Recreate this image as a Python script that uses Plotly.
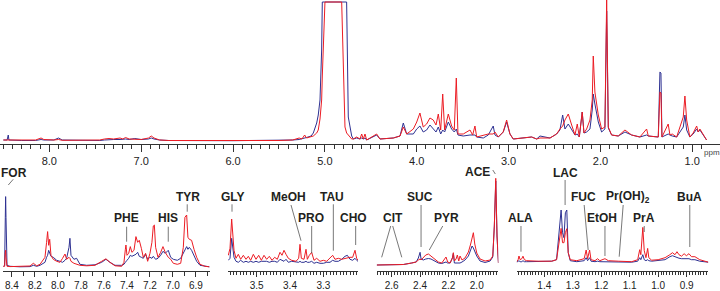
import plotly.graph_objects as go
import numpy as np

RED = "#EC1C24"
BLUE = "#2E3192"
FONT = "Liberation Sans, Arial, sans-serif"

# ---------------- main spectrum (ppm, red, blue) ----------------
main_ppm = [8.50, 8.46, 8.447, 8.44, 8.30, 8.15, 8.09, 8.06, 7.95, 7.90, 7.86, 7.60, 7.58, 7.45,
            7.40, 7.35, 7.30, 7.23, 7.20, 7.17, 7.13, 7.07, 7.00, 6.92, 6.89, 6.86, 6.80, 6.70,
            6.00, 5.50, 5.35, 5.28, 5.25, 5.22, 5.20, 5.15, 5.126, 5.089, 5.072, 5.053, 5.035,
            5.028, 5.010, 4.999, 4.817, 4.799, 4.781, 4.763, 4.745, 4.719, 4.708, 4.69, 4.654,
            4.618, 4.599, 4.582, 4.563, 4.545, 4.436, 4.400, 4.255, 4.182, 4.146, 4.109, 4.037,
            4.000, 3.965, 3.929, 3.892, 3.856, 3.820, 3.790, 3.765, 3.739, 3.717, 3.696, 3.656,
            3.620, 3.591, 3.569, 3.551, 3.493, 3.420, 3.391, 3.366, 3.347, 3.275, 3.221, 3.167,
            3.148, 3.112, 3.058, 3.021, 2.985, 2.949, 2.749, 2.694, 2.658, 2.549, 2.477, 2.441,
            2.411, 2.386, 2.350, 2.313, 2.277, 2.252, 2.230, 2.198, 2.179, 2.150, 2.114, 2.089,
            2.078, 2.060, 2.023, 1.987, 1.951, 1.932, 1.914, 1.878, 1.806, 1.733, 1.660, 1.570,
            1.497, 1.479, 1.370, 1.352, 1.341, 1.330, 1.262, 1.243, 1.218, 1.170, 1.098, 1.080,
            1.061, 1.026, 0.990, 0.952, 0.935, 0.917, 0.881, 0.844]
main_red = [1, 1, 1.5, 1, 1, 1, 3, 1.5, 1, 1.5, 0.7, 1, 1.5, 1,
            2, 2.5, 2, 3, 2, 3.5, 2, 2, 1.5, 3, 5, 3, 1, 0.5,
            0.3, 0.5, 1, 3, 2, 6, 3, 4, 5, 8, 11, 22, 41,
            65, 108, 139, 139, 74, 14, 8, 6, 3, 2, 2, 4,
            2, 7, 2, 7, 1, 7, 2, 3, 5, 14, 7, 12,
            19, 28, 14, 17, 23, 21, 16, 27, 11, 47, 11, 27,
            15, 11, 63, 7, 7, 11, 6, 15, 4, 6, 7, 7,
            9, 4, 9, 21, 7, 2, 4, 2, 3, 3, 7, 12,
            15, 21, 27, 16, 6, 17, 4, 29, 8, 12, 21, 41,
            85, 49, 26, 12, 14, 142, 14, 6, 5, 11, 6, 4,
            12, 5, 4, 49, 48, 4, 17, 6, 7, 4, 24, 45,
            21, 4, 8, 15, 9, 12, 6, 1]
main_blue = [1, 1, 6, 1, 0.5, 0.5, 1.5, 1, 1, 3, 1, 0.5, 1, 0.5,
             1, 1.5, 1.5, 1.5, 2, 2, 1.5, 2.5, 1.5, 2, 3, 2, 1, 0.5,
             0.3, 0.5, 1, 1.5, 2, 3, 3.5, 5, 8, 18, 26, 41, 91,
             139, 139, 139, 139, 139, 139, 139, 24, 8, 5, 2, 3,
             2, 3, 2, 3, 1, 6, 2, 3, 5, 18, 7, 7,
             12, 15, 9, 11, 16, 12, 9, 14, 7, 11, 9, 19,
             12, 9, 12, 6, 5, 6, 6, 6, 4, 3, 6, 15,
             6, 4, 9, 19, 7, 2, 4, 2, 5, 3, 7, 11,
             26, 12, 17, 11, 6, 7, 4, 29, 8, 9, 12, 31,
             47, 37, 19, 9, 12, 130, 13, 6, 5, 9, 6, 4,
             6, 5, 4, 69, 68, 4, 7, 6, 5, 4, 14, 26,
             11, 4, 7, 12, 9, 11, 6, 1]

# ---------------- inset 1: aromatic region ----------------
arom_ppm = [8.475, 8.464, 8.458, 8.455, 8.452, 8.443, 8.417, 8.330, 8.243, 8.214, 8.185, 8.156,
            8.113, 8.099, 8.090, 8.081, 8.072, 8.061, 8.041, 8.011, 7.983, 7.960, 7.939, 7.925,
            7.904, 7.896, 7.887, 7.861, 7.838, 7.809, 7.751, 7.678, 7.620, 7.583, 7.548, 7.504,
            7.446, 7.426, 7.414, 7.409, 7.400, 7.385, 7.371, 7.357, 7.339, 7.322, 7.307, 7.293,
            7.275, 7.258, 7.238, 7.220, 7.200, 7.183, 7.171, 7.162, 7.151, 7.130, 7.107, 7.087,
            7.067, 7.041, 7.020, 6.997, 6.962, 6.933, 6.910, 6.896, 6.881, 6.870, 6.858, 6.838,
            6.817, 6.794, 6.765, 6.722, 6.684]
arom_red = [1, 1, 15, 17, 10, 1, 0.7, 1, 1.3, 4, 1.5, 3,
            10, 25, 35.7, 22, 28, 12, 8, 6, 5, 9, 13.3, 8,
            10, 9, 6, 4, 3, 2, 1.5, 2, 6, 8.5, 5, 1.5,
            1, 5, 18, 22.3, 12, 14, 20.7, 15, 17, 30.7, 25, 27,
            19, 10, 14, 6, 14, 25, 41.3, 42.3, 20, 10, 15, 20.7,
            15, 10, 8, 4, 3, 4, 20, 50, 52.3, 30, 28, 27,
            18, 10, 3, 1, 0.5]
arom_blue = [1, 1.5, 50, 70.7, 50, 2, 1, 0.5, 0.7, 2, 1, 2,
             5, 10, 12, 17, 15, 11, 10, 7, 6, 5, 7, 9,
             20, 29, 12, 8, 9, 3, 2, 2.5, 5, 8, 5, 2,
             2, 3, 5, 6, 7, 9, 12, 11, 12, 13, 15, 11,
             10, 9, 13, 8, 10, 9, 11, 10, 8, 9, 12, 16,
             14, 17, 10, 8, 7, 9, 14, 18, 20.7, 18, 20, 17,
             12, 6, 2, 1, 0.5]

# ---------------- inset 2: 3.6 - 3.2 ppm ----------------
gly_ppm = [3.585, 3.580, 3.575, 3.572, 3.568, 3.562, 3.555, 3.548, 3.540, 3.532, 3.525, 3.518,
           3.510, 3.502, 3.494, 3.486, 3.478, 3.470, 3.462, 3.454, 3.446, 3.438, 3.430, 3.424,
           3.418, 3.412, 3.405, 3.395, 3.382, 3.374, 3.370, 3.366, 3.358, 3.352, 3.348, 3.342,
           3.335, 3.328, 3.320, 3.310, 3.300, 3.290, 3.280, 3.272, 3.265, 3.255, 3.245, 3.235,
           3.228, 3.220, 3.212, 3.205, 3.200, 3.196]
gly_red = [8, 15, 44.3, 30, 13, 5, 9, 4, 8, 4, 7, 3,
           9, 4, 8, 3, 8, 4, 7, 3, 6, 4, 11, 8,
           13, 9, 5, 3, 2, 5, 19, 5, 4, 14, 4, 8,
           11, 3, 5, 2, 3, 2, 5, 8, 4, 5, 4, 5,
           5, 6, 6, 13, 5, 3]
gly_blue = [3, 5, 25, 15, 6, 2, 1, 3, 1, 2, 1, 2,
            1, 2, 1, 2, 2, 2, 1, 2, 2, 1, 4, 3,
            2, 4, 1, 2, 1, 1, 2, 1, 1, 2, 1, 1,
            2, 0, 1, 0, 0, 1, 1, 3, 2, 2, 4, 7,
            8, 4, 3, 5, 3, 2]

# ---------------- inset 3: 2.7 - 1.85 ppm ----------------
mid_ppm = [2.706, 2.612, 2.518, 2.459, 2.428, 2.412, 2.400, 2.393, 2.377, 2.360, 2.341, 2.323,
           2.301, 2.271, 2.247, 2.231, 2.217, 2.205, 2.188, 2.172, 2.165, 2.158, 2.146, 2.137,
           2.127, 2.118, 2.104, 2.083, 2.059, 2.043, 2.033, 2.024, 2.014, 2.000, 1.977, 1.941,
           1.906, 1.887, 1.876, 1.866, 1.857, 1.847]
mid_red = [1, 1, 1.5, 3, 4, 6, 7, 6, 9, 11, 12, 10,
           7, 4, 3, 6, 9, 4, 3, 8, 13.3, 5, 7, 11,
           5, 10, 6, 8, 14, 22, 30, 33.3, 22, 13, 7, 5,
           6, 10, 40, 87.7, 30, 3]
mid_blue = [1, 1, 1.5, 3, 4, 8, 13.7, 7, 6, 7, 7.5, 7,
            5, 3, 2.5, 3, 4, 3, 3, 8, 12.7, 3, 3, 3,
            3, 3, 4, 6, 10, 17, 20, 18, 15, 10, 5, 3.5,
            5, 9, 40, 85, 30, 3]

# ---------------- inset 4: 1.5 - 0.82 ppm ----------------
ali_ppm = [1.497, 1.492, 1.489, 1.485, 1.479, 1.475, 1.470, 1.462, 1.421, 1.374, 1.357, 1.347,
           1.341, 1.336, 1.331, 1.326, 1.321, 1.316, 1.309, 1.286, 1.260, 1.253, 1.248, 1.241,
           1.236, 1.222, 1.213, 1.205, 1.196, 1.187, 1.175, 1.158, 1.140, 1.093, 1.072, 1.065,
           1.061, 1.054, 1.049, 1.043, 1.037, 1.033, 1.023, 1.000, 0.976, 0.959, 0.950, 0.941,
           0.934, 0.927, 0.918, 0.909, 0.901, 0.892, 0.883, 0.871, 0.854, 0.836, 0.824]
ali_red = [1, 3, 6.7, 3, 4, 6.5, 3, 2, 1.5, 1.5, 3, 20,
           34.3, 20, 20, 30, 34, 10, 3, 2, 4, 12.7, 4, 12.7,
           3, 2, 4, 2, 3, 4, 2, 2, 1.5, 1, 3, 13,
           8, 35.3, 12, 5, 14.3, 5, 2.5, 3, 5, 8, 10, 8,
           11, 8, 6.5, 9, 7, 9, 6, 6, 3, 1.5, 0.5]
ali_blue = [0.5, 1, 2, 1, 1, 2, 1, 1, 1, 1.5, 3, 30,
            52.7, 30, 25, 50, 52.7, 10, 2, 1, 2, 5, 2, 5,
            1.5, 1, 1.5, 1, 1, 1, 1, 1, 1, 0.5, 1.5, 5,
            3, 8, 3, 2, 3, 2, 1.5, 2, 3, 6, 7, 6,
            5, 4.5, 4, 4, 3.5, 4, 3, 3, 1.5, 1, 0.5]

# ---------------- tick labels ----------------
main_tickvals = [8.0, 7.0, 6.0, 5.0, 4.0, 3.0, 2.0, 1.0]
main_ticktext = ["8.0", "7.0", "6.0", "5.0", "4.0", "3.0", "2.0", "1.0"]
arom_tickvals = [8.4, 8.2, 8.0, 7.8, 7.6, 7.4, 7.2, 7.0, 6.8]
arom_ticktext = ["8.4", "8.2", "8.0", "7.8", "7.6", "7.4", "7.2", "7.0", "6.9"]
gly_tickvals = [3.5, 3.4, 3.3]
gly_ticktext = ["3.5", "3.4", "3.3"]
mid_tickvals = [2.6, 2.4, 2.2, 2.0]
mid_ticktext = ["2.6", "2.4", "2.2", "2.0"]
ali_tickvals = [1.4, 1.3, 1.2, 1.1, 1.0, 0.9]
ali_ticktext = ["1.4", "1.3", "1.2", "1.1", "1.0", "0.9"]

# metabolite labels: (axis, text, x_ppm, y, leader segments [(x0, y0, x1, y1)])
labels = [
    ("2", "FOR", 8.384, 94.5, [(8.389, 88, 8.432, 82.3)]),
    ("2", "PHE", 7.403, 49, [(7.403, 40.6, 7.403, 25.6)]),
    ("2", "HIS", 7.041, 49, [(7.041, 40.6, 7.041, 25.6)]),
    ("2", "TYR", 6.867, 70.6, [(6.876, 63, 6.876, 55.6)]),
    ("3", "GLY", 3.572, 66.6, [(3.574, 59, 3.574, 51.6)]),
    ("3", "MeOH", 3.405, 66.6, [(3.397, 58.3, 3.367, 22.6)]),
    ("3", "PRO", 3.338, 45, [(3.335, 37.3, 3.335, 10)]),
    ("3", "TAU", 3.275, 66.6, [(3.270, 59, 3.270, 12.6)]),
    ("3", "CHO", 3.210, 45, [(3.203, 37.3, 3.203, 18.3)]),
    ("4", "CIT", 2.589, 47.7, [(2.607, 40, 2.671, 8.7), (2.593, 40, 2.529, 8.7)]),
    ("4", "SUC", 2.400, 69.3, [(2.393, 61, 2.393, 19)]),
    ("4", "PYR", 2.217, 47.7, [(2.240, 40, 2.335, 16)]),
    ("4", "ACE", 1.996, 94.3, [(1.887, 96, 1.869, 92)]),
    ("5", "ALA", 1.482, 44.4, [(1.482, 36.7, 1.482, 11)]),
    ("5", "LAC", 1.327, 90, [(1.327, 82.7, 1.327, 57.7)]),
    ("5", "FUC", 1.263, 66, [(1.260, 57.7, 1.246, 12.7)]),
    ("5", "EtOH", 1.199, 44.4, [(1.187, 36.7, 1.187, 6.7)]),
    ("5", "Pr(OH)<sub>2</sub>", 1.105, 66, [(1.123, 57.7, 1.137, 6)]),
    ("5", "PrA", 1.049, 44.4, [(1.049, 36.7, 1.049, 30.7)]),
    ("5", "BuA", 0.889, 66, [(0.889, 57.7, 0.889, 15.7)]),
]

W, H = 720, 291


def px_x(p):
    return p / W


def px_y(p):
    return 1 - p / H


fig = go.Figure()
panels = [
    ("", main_ppm, main_red, main_blue),
    ("2", arom_ppm, arom_red, arom_blue),
    ("3", gly_ppm, gly_red, gly_blue),
    ("4", mid_ppm, mid_red, mid_blue),
    ("5", ali_ppm, ali_red, ali_blue),
]
for ax, xs, r, b in panels:
    fig.add_trace(go.Scatter(x=xs, y=b, mode="lines", line=dict(color=BLUE, width=1),
                             xaxis="x" + ax, yaxis="y" + ax, hoverinfo="skip"))
    fig.add_trace(go.Scatter(x=xs, y=r, mode="lines", line=dict(color=RED, width=1),
                             xaxis="x" + ax, yaxis="y" + ax, hoverinfo="skip"))

axcol = "#333333"


def xaxis_cfg(domain, rng, tv, tt, minor_vals, ticklen, minorlen, anchor, size):
    return dict(domain=domain, range=rng, anchor=anchor, showgrid=False, zeroline=False,
                showline=True, linecolor=axcol, linewidth=1, ticks="outside",
                tickmode="array", tickvals=tv, ticktext=tt, ticklen=ticklen,
                tickcolor=axcol, tickwidth=1,
                tickfont=dict(family=FONT, size=size, color="#222"),
                minor=dict(tickmode="array", tickvals=minor_vals, ticks="outside",
                           ticklen=minorlen, tickcolor=axcol, tickwidth=1, showgrid=False))


main_minor = [round(v, 2) for v in np.arange(8.5, 0.85, -0.1)]
arom_minor = [round(v, 2) for v in np.arange(8.4, 6.65, -0.1)]
gly_minor = [round(v, 3) for v in np.arange(3.58, 3.195, -0.01)]
mid_minor = [round(v, 3) for v in np.arange(2.70, 1.85, -0.02)]
ali_minor = [round(v, 3) for v in np.arange(1.49, 0.825, -0.01)]

ins_dom = [px_y(271), px_y(150)]
layout = dict(
    width=W, height=H, margin=dict(l=0, r=0, t=0, b=0),
    paper_bgcolor="white", plot_bgcolor="white", showlegend=False,
    xaxis=xaxis_cfg([0, 1], [8.537, 0.698], main_tickvals, main_ticktext, main_minor, 7, 4, "y", 11),
    yaxis=dict(domain=[px_y(144), 1], range=[-3, 141], visible=False),
    xaxis2=xaxis_cfg([px_x(3), px_x(210)], [8.478, 6.678], arom_tickvals, arom_ticktext, arom_minor, 5, 4, "y2", 10),
    yaxis2=dict(domain=ins_dom, range=[-3.7, 117.3], visible=False),
    xaxis3=xaxis_cfg([px_x(228), px_x(358)], [3.586, 3.196], gly_tickvals, gly_ticktext, gly_minor, 5, 3, "y3", 10),
    yaxis3=dict(domain=ins_dom, range=[-7.7, 113.3], visible=False),
    xaxis4=xaxis_cfg([px_x(376.7), px_x(498.3)], [2.706, 1.848], mid_tickvals, mid_ticktext, mid_minor, 5, 3, "y4", 10),
    yaxis4=dict(domain=ins_dom, range=[-5, 116], visible=False),
    xaxis5=xaxis_cfg([px_x(516.7), px_x(708.3)], [1.497, 0.824], ali_tickvals, ali_ticktext, ali_minor, 5, 3, "y5", 10),
    yaxis5=dict(domain=ins_dom, range=[-8.3, 112.7], visible=False),
)
fig.update_layout(**layout)

annotations = []
shapes = []
for ax, text, tx, ty, segs in labels:
    annotations.append(dict(x=tx, y=ty, xref="x" + ax, yref="y" + ax, text="<b>" + text + "</b>",
                            showarrow=False, xanchor="center", yanchor="middle",
                            font=dict(family=FONT, size=12, color="#231F20")))
    for (x0, y0, x1, y1) in segs:
        shapes.append(dict(type="line", xref="x" + ax, yref="y" + ax, x0=x0, y0=y0, x1=x1, y1=y1,
                           line=dict(color="#555555", width=0.8)))
annotations.append(dict(x=px_x(712), y=px_y(152), xref="paper", yref="paper", text="ppm",
                        showarrow=False, xanchor="center", yanchor="middle",
                        font=dict(family=FONT, size=8, color="#444")))
fig.update_layout(annotations=annotations, shapes=shapes)

fig.write_html("out.html", config={"displayModeBar": False, "staticPlot": True})

# remove the browser's default body margin so the figure sits at the window's corner
with open("out.html", "r", encoding="utf-8") as f:
    html = f.read()
html = html.replace("<body>", '<body style="margin:0;padding:0;overflow:hidden">', 1)
html = html.replace("<head>", "<head><style>html,body{margin:0;padding:0;}</style>", 1)
with open("out.html", "w", encoding="utf-8") as f:
    f.write(html)
